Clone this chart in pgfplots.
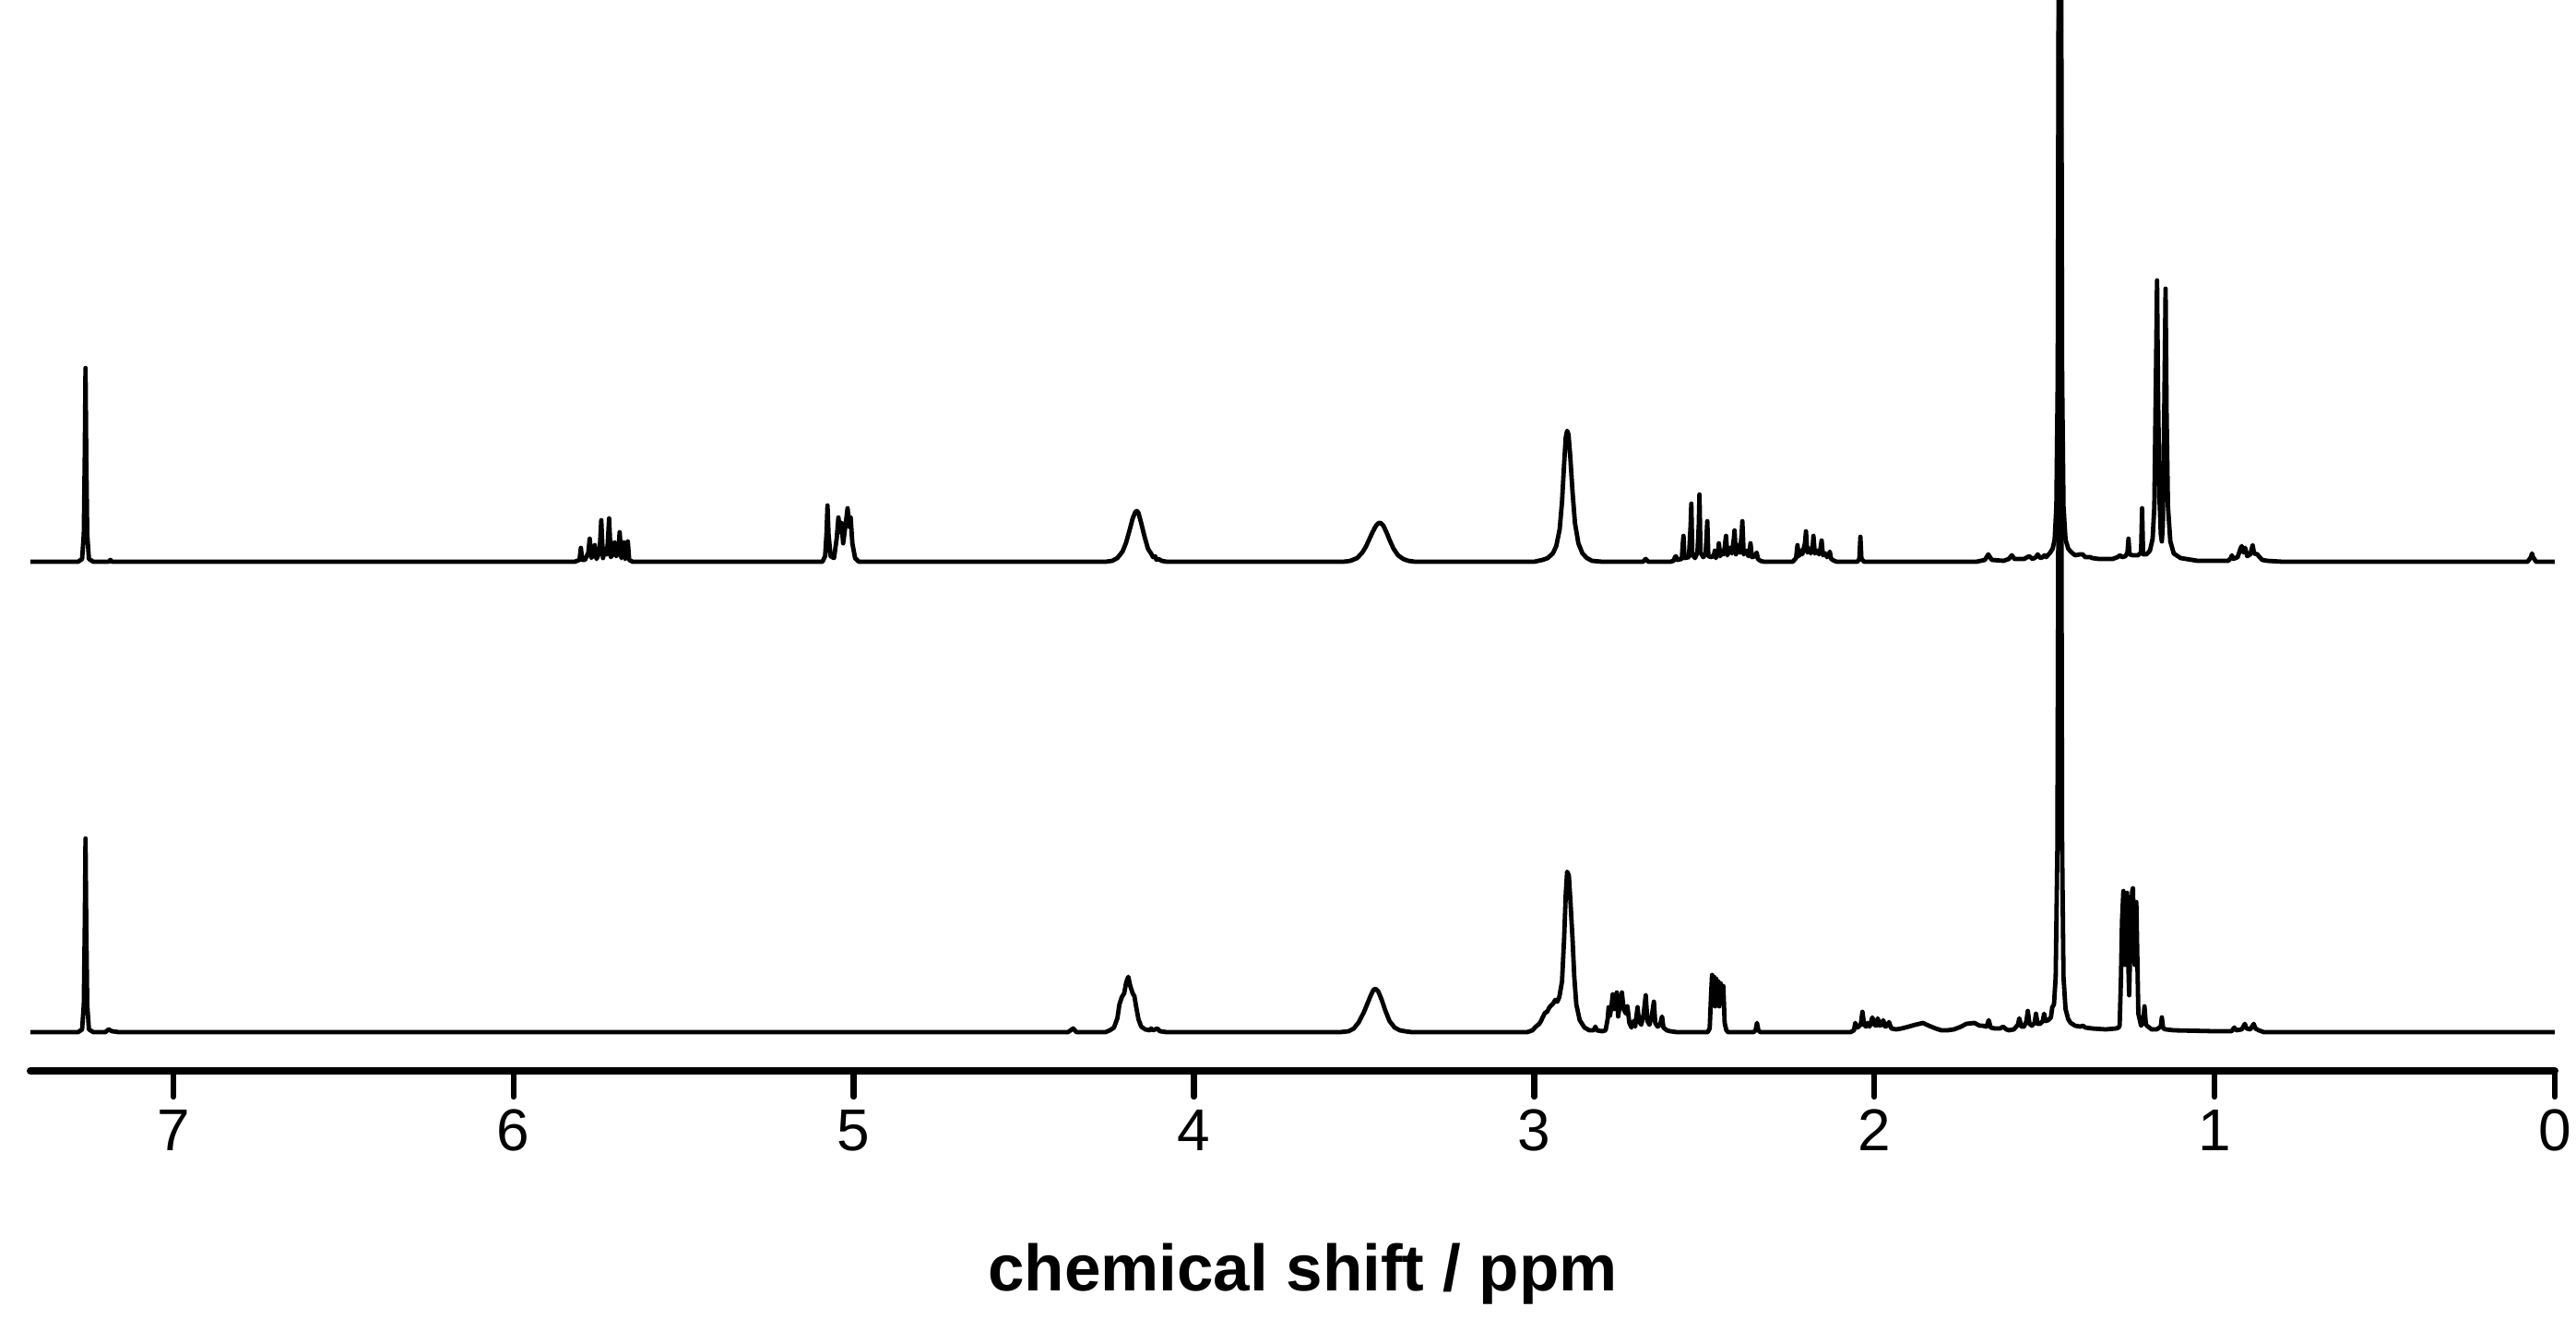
\documentclass[border=0pt]{standalone}
\usepackage{pgfplots}
\pgfplotsset{compat=1.18}
\usepackage{pgfplotstable}
\usepackage{fontspec}
\setmainfont{Liberation Sans}
\pgfplotstableread{
ppm h
7.420 0
7.280 0
7.268 3
7.263 30
7.260 120
7.258 210
7.256 120
7.253 30
7.248 3
7.235 0
7.190 0
7.185 2
7.180 0
5.820 0
5.806 2
5.802 15
5.798 2
5.790 2
5.780 10
5.776 25
5.771 4
5.765 10
5.761 18
5.756 3
5.747 10
5.742 45
5.737 4
5.733 10
5.730 14
5.726 8
5.723 20
5.719 47
5.714 5
5.708 8
5.703 21
5.698 6
5.692 10
5.688 32
5.683 4
5.679 8
5.676 21
5.672 3
5.667 6
5.664 22
5.660 2
5.650 0
5.092 0
5.084 6
5.080 30
5.077 61
5.074 30
5.068 6
5.058 4
5.050 25
5.045 48
5.040 32
5.036 42
5.031 20
5.024 40
5.018 58
5.013 38
5.009 48
5.004 20
4.996 4
4.985 0
4.260 0
4.240 1
4.225 4
4.210 11
4.200 20
4.190 33
4.180 47
4.172 54
4.168 55
4.163 53
4.155 42
4.145 27
4.135 14
4.126 9
4.120 5
4.114 6
4.110 2
4.104 3
4.095 1
4.080 0
3.560 0
3.540 1
3.520 4
3.505 10
3.495 16
3.485 24
3.475 32
3.465 39
3.457 42
3.451 42
3.443 39
3.433 31
3.423 22
3.413 14
3.400 7
3.385 3
3.370 1
3.350 0
3.000 0
2.975 2
2.960 4
2.945 9
2.935 17
2.925 35
2.918 65
2.912 105
2.907 135
2.903 142
2.899 138
2.894 115
2.887 75
2.880 42
2.870 20
2.858 9
2.845 4
2.830 1
2.800 0
2.680 0
2.672 3
2.664 0
2.600 0
2.590 1
2.586 5
2.583 6
2.580 2
2.566 3
2.563 20
2.561 28
2.558 4
2.545 5
2.540 40
2.538 63
2.535 8
2.527 4
2.520 10
2.516 40
2.514 73
2.511 10
2.503 5
2.496 8
2.493 30
2.491 44
2.488 6
2.478 5
2.471 8
2.469 12
2.466 4
2.459 10
2.457 20
2.453 6
2.447 12
2.442 8
2.438 22
2.436 28
2.432 7
2.424 15
2.419 9
2.413 25
2.411 34
2.407 8
2.400 18
2.395 10
2.390 30
2.388 44
2.384 8
2.376 12
2.370 6
2.366 14
2.364 20
2.360 5
2.350 6
2.346 10
2.342 3
2.335 1
2.325 0
2.240 0
2.230 4
2.226 18
2.222 6
2.216 12
2.212 8
2.204 20
2.201 33
2.197 10
2.191 14
2.187 9
2.181 18
2.179 28
2.175 9
2.168 12
2.163 8
2.158 15
2.155 23
2.151 7
2.144 9
2.139 5
2.133 8
2.131 11
2.127 3
2.118 1
2.110 0
2.050 0
2.044 3
2.041 27
2.038 3
2.030 0
1.700 0
1.675 2
1.665 8
1.655 2
1.620 1
1.605 3
1.596 7
1.588 3
1.560 3
1.545 6
1.535 3
1.525 5
1.520 8
1.512 4
1.505 5
1.500 7
1.495 5
1.485 9
1.476 14
1.470 24
1.465 60
1.461 200
1.458 700
1.4545 3000
1.451 700
1.448 200
1.444 60
1.438 24
1.430 14
1.420 10
1.410 7
1.395 8
1.388 8
1.380 5
1.365 5
1.360 4
1.340 3
1.300 3
1.285 5
1.278 7
1.272 5
1.262 6
1.256 10
1.253 25
1.250 8
1.240 7
1.225 7
1.216 10
1.213 58
1.210 8
1.200 8
1.190 12
1.182 25
1.177 60
1.173 180
1.169 305
1.166 180
1.162 70
1.158 30
1.155 22
1.152 40
1.148 160
1.144 296
1.141 160
1.137 60
1.130 22
1.120 9
1.100 4
1.050 1
1.000 1
0.960 1
0.952 4
0.949 7
0.945 3
0.932 5
0.924 14
0.920 17
0.915 10
0.910 15
0.904 6
0.895 8
0.888 18
0.884 9
0.874 8
0.870 6
0.860 2
0.845 1
0.800 0
0.080 0
0.070 5
0.067 9
0.064 5
0.055 0
0.000 0
}\topspec
\pgfplotstableread{
ppm h
7.420 0
7.280 0
7.268 3
7.263 30
7.260 120
7.258 210
7.256 120
7.253 30
7.248 3
7.235 0
7.200 0
7.190 3
7.180 1
7.160 0
4.370 0
4.355 4
4.345 0
4.260 0
4.247 2
4.235 5
4.225 15
4.219 30
4.212 38
4.205 42
4.199 54
4.193 60
4.187 50
4.180 42
4.175 39
4.170 28
4.163 14
4.155 6
4.143 3
4.130 2
4.126 4
4.120 2
4.108 4
4.100 1
4.080 0
3.570 0
3.545 1
3.530 4
3.515 11
3.500 22
3.490 31
3.480 40
3.472 46
3.466 47
3.458 44
3.448 35
3.438 24
3.425 12
3.410 5
3.395 2
3.380 1
3.360 0
3.020 0
3.005 2
2.995 6
2.985 9
2.980 12
2.975 16
2.968 21
2.962 22
2.955 27
2.950 29
2.944 31
2.938 35
2.932 33
2.926 38
2.918 55
2.912 100
2.907 150
2.903 174
2.898 170
2.893 140
2.887 100
2.882 60
2.876 30
2.866 13
2.852 5
2.838 2
2.825 2
2.820 6
2.816 2
2.800 1
2.790 2
2.784 14
2.781 27
2.777 18
2.772 30
2.769 41
2.765 25
2.760 35
2.757 43
2.753 17
2.746 35
2.742 43
2.737 25
2.730 20
2.726 28
2.720 10
2.714 5
2.708 12
2.703 6
2.699 18
2.696 27
2.692 12
2.685 8
2.678 20
2.672 40
2.667 12
2.661 8
2.654 18
2.648 33
2.644 10
2.637 6
2.630 8
2.624 17
2.620 5
2.610 2
2.600 1
2.580 0
2.490 0
2.484 4
2.480 40
2.477 62
2.474 30
2.471 60
2.468 28
2.465 58
2.462 30
2.459 55
2.456 28
2.452 53
2.448 35
2.444 50
2.440 10
2.435 2
2.430 0
2.355 0
2.349 2
2.345 10
2.341 2
2.335 0
2.070 0
2.060 2
2.056 10
2.050 5
2.040 8
2.035 22
2.030 8
2.024 6
2.020 10
2.014 6
2.006 16
2.000 8
1.994 7
1.990 15
1.984 7
1.978 8
1.974 13
1.968 6
1.962 7
1.957 11
1.950 4
1.936 3
1.920 4
1.899 6
1.880 8
1.857 10
1.840 7
1.820 4
1.803 2
1.785 2
1.766 3
1.745 6
1.730 9
1.706 10
1.690 7
1.682 7
1.670 6
1.664 13
1.658 5
1.646 4
1.630 4
1.622 6
1.612 3
1.604 2
1.590 3
1.578 8
1.574 15
1.568 6
1.560 6
1.553 12
1.549 23
1.544 9
1.537 7
1.529 10
1.525 20
1.520 9
1.513 9
1.505 12
1.501 20
1.497 12
1.489 13
1.481 16
1.477 27
1.472 30
1.467 60
1.462 200
1.458 700
1.4545 3000
1.451 700
1.448 200
1.444 60
1.438 25
1.430 14
1.423 10
1.410 7
1.395 6
1.387 7
1.380 5
1.360 4
1.320 3
1.290 4
1.282 5
1.279 7
1.275 60
1.272 120
1.268 153
1.265 110
1.263 73
1.260 110
1.257 151
1.254 80
1.251 40
1.248 90
1.245 130
1.242 153
1.240 156
1.237 110
1.235 73
1.232 110
1.230 141
1.227 80
1.224 20
1.216 7
1.210 10
1.206 28
1.202 9
1.199 7
1.185 3
1.170 3
1.158 6
1.155 16
1.151 4
1.143 3
1.120 2
1.000 1
0.950 1
0.942 5
0.936 2
0.920 3
0.911 9
0.906 4
0.895 3
0.885 9
0.880 4
0.870 2
0.855 0
0.000 0
}\botspec
\begin{document}
\begin{tikzpicture}
\path[use as bounding box] (0,0) rectangle (698.25pt,357.25pt);
\begin{axis}[
  at={(8.25pt,67pt)}, anchor=south west,
  scale only axis, width=684.25pt, height=290.25pt,
  x dir=reverse, xmin=0, xmax=7.42, ymin=0, ymax=1161,
  axis x line*=bottom, axis y line=none,
  xtick={0,1,2,3,4,5,6,7}, ytick=\empty,
  tick align=outside, major tick length=7pt,
  x axis line style={line width=2pt, line cap=round},
  every tick/.style={black, line width=1.6pt, line cap=round},
  xticklabel style={font=\fontsize{16}{16}\selectfont},
  /pgf/number format/assume math mode=true,
  xlabel={chemical shift / ppm},
  xlabel style={font=\fontsize{17.75}{18}\selectfont\bfseries, at={(axis description cs:0.504,0)}, anchor=base, yshift=-59.5pt},
]
\addplot[black, line width=1.2pt, line join=round] table[x=ppm, y expr=\thisrow{h}+552] {\topspec};
\addplot[black, line width=1.2pt, line join=round] table[x=ppm, y expr=\thisrow{h}+42] {\botspec};
\end{axis}
\end{tikzpicture}
\end{document}
